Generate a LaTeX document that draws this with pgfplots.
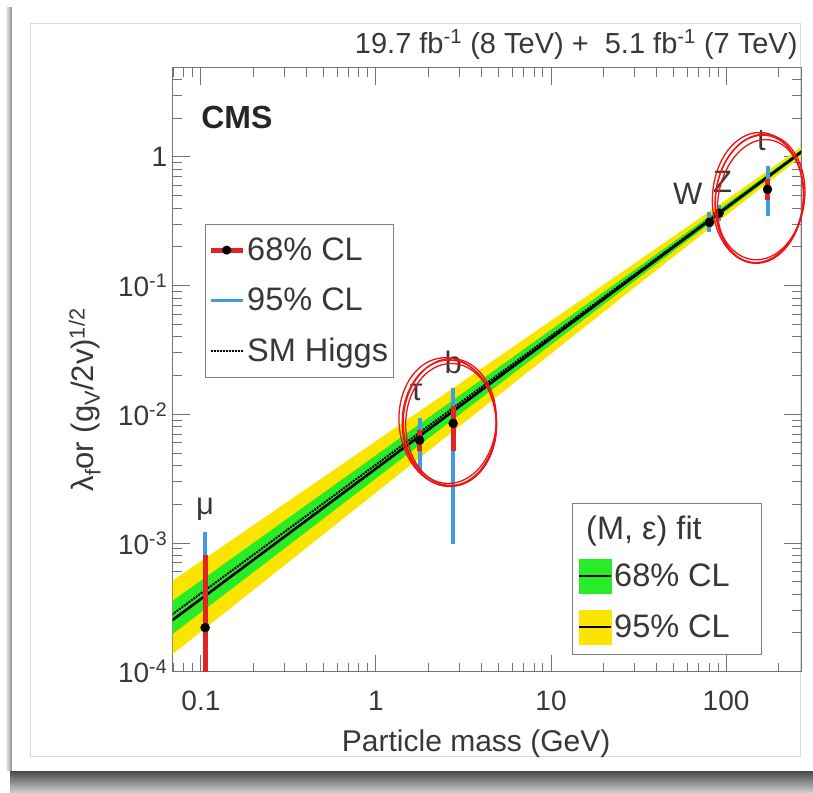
\documentclass[border=0pt]{standalone}
\usepackage{pgfplots}
\pgfplotsset{compat=1.18}
\usepackage{fontspec}
\setmainfont{Liberation Sans}

\definecolor{cmsred}{RGB}{225,35,35}
\definecolor{cmsblue}{RGB}{62,155,228}
\definecolor{bandgreen}{RGB}{40,236,40}
\definecolor{bandyellow}{RGB}{250,228,0}
\definecolor{penred}{RGB}{236,20,20}
\definecolor{txt}{gray}{0.22}

\newcommand\fsz[1]{\fontsize{#1}{#1}\selectfont}

\begin{document}
\begin{tikzpicture}[x=1pt,y=1pt]
% card, its shadows and the inner frame
\fill[white] (0,0) rectangle (813,-792);
\shade[left color=white, right color=black!45] (5,-8) rectangle (12,-770);
\shade[top color=black!72, bottom color=black!20] (10,-771) rectangle (813,-792);
\fill[white] (12,-6) rectangle (813,-770);
\draw[black!15, line width=1pt] (30,-24) rectangle (800,-756);

\begin{axis}[
  at={(172.7pt,-671.7pt)}, anchor=south west,
  scale only axis, width=628.3pt, height=604pt,
  xmode=log, ymode=log,
  xmin=0.069, xmax=268, ymin=1e-4, ymax=4.93,
  axis line style={black!55, line width=1pt},
  tick style={black!55, line width=1pt},
  tick align=inside,
  major tick length=17pt, minor tick length=9pt,
  xtick={0.1,1,10,100}, xticklabels={0.1,1,10,100},
  minor xtick={0.07,0.08,0.09,0.2,0.3,0.4,0.5,0.6,0.7,0.8,0.9,2,3,4,5,6,7,8,9,20,30,40,50,60,70,80,90,200},
  ytick={1e-4,1e-3,1e-2,1e-1,1},
  yticklabels={10\textsuperscript{-4},10\textsuperscript{-3},10\textsuperscript{-2},10\textsuperscript{-1},1},
  minor ytick={2e-4,3e-4,4e-4,5e-4,6e-4,7e-4,8e-4,9e-4,2e-3,3e-3,4e-3,5e-3,6e-3,7e-3,8e-3,9e-3,2e-2,3e-2,4e-2,5e-2,6e-2,7e-2,8e-2,9e-2,0.2,0.3,0.4,0.5,0.6,0.7,0.8,0.9,2,3,4},
  ticklabel style={font=\fsz{28}, text=txt},
  xticklabel style={yshift=-16pt},
  yticklabel style={xshift=-2pt},
  xlabel={Particle mass (GeV)},
  xlabel style={at={(rel axis cs:0.483,-0.12)}, anchor=center, font=\fsz{30}, text=txt},
  ylabel={λ\textsubscript{f}or (g\textsubscript{V}/2v)\textsuperscript{1/2}},
  ylabel style={at={(rel axis cs:-0.14,0.45)}, anchor=center, font=\fsz{31}, text=txt},
  legend cell align=left,
  legend style={at={(rel axis cs:0.051,0.742)}, anchor=north west,
    draw=black!50, line width=1pt, fill=white, font=\fsz{32.5}, text=txt,
    inner xsep=3pt, inner ysep=12pt, row sep=22pt},
]
% legend entries for the measured couplings
\addlegendimage{legend image code/.code={\draw[cmsred, line width=5pt] (0pt,0pt) -- (32pt,0pt); \fill[black] (16pt,0pt) circle (4pt);}}
\addlegendentry{68\% CL}
\addlegendimage{legend image code/.code={\draw[cmsblue, line width=3.5pt] (0pt,0pt) -- (32pt,0pt);}}
\addlegendentry{95\% CL}
\addlegendimage{legend image code/.code={\draw[black, densely dotted, line width=2pt] (0pt,0pt) -- (32pt,0pt);}}
\addlegendentry{SM Higgs}

% (M, epsilon) fit: 95% and 68% bands
\addplot[forget plot, fill=bandyellow, draw=none] coordinates {
  (0.06,4.483e-4) (0.3,2.0153e-3) (1,6.192e-3) (3,1.7266e-2) (10,5.331e-2) (30,0.14868) (100,0.46308) (300,1.3216)
  (300,1.1248) (100,0.35134) (30,9.686e-2) (10,2.9562e-2) (3,8.077e-3) (1,2.4651e-3) (0.3,6.704e-4) (0.06,1.1792e-4)
} -- cycle;
\addplot[forget plot, fill=bandgreen, draw=none] coordinates {
  (0.06,3.108e-4) (0.3,1.4899e-3) (1,4.805e-3) (3,1.4007e-2) (10,4.5373e-2) (30,0.13224) (100,0.42920) (300,1.2649)
  (300,1.1751) (100,0.37906) (30,0.10894) (10,3.4734e-2) (3,9.959e-3) (1,3.1754e-3) (0.3,9.063e-4) (0.06,1.7003e-4)
} -- cycle;
% best fit and SM expectation
\addplot[forget plot, black, line width=2.6pt] coordinates {(0.06,2.192e-4) (300,1.2192)};
\addplot[forget plot, black, densely dotted, line width=2pt] coordinates {(0.06,2.4368e-4) (300,1.2184)};

% 95% CL intervals
\addplot[forget plot, cmsblue, line width=4pt] coordinates {(0.1057,5e-5) (0.1057,1.22e-3)};
\addplot[forget plot, cmsblue, line width=4pt] coordinates {(1.777,3.5e-3) (1.777,9.3e-3)};
\addplot[forget plot, cmsblue, line width=4pt] coordinates {(2.76,9.8e-4) (2.76,1.6e-2)};
\addplot[forget plot, cmsblue, line width=4pt] coordinates {(80.4,0.26) (80.4,0.37)};
\addplot[forget plot, cmsblue, line width=4pt] coordinates {(91.2,0.32) (91.2,0.42)};
\addplot[forget plot, cmsblue, line width=4pt] coordinates {(172.5,0.35) (172.5,0.85)};
% 68% CL intervals
\addplot[forget plot, cmsred, line width=5pt] coordinates {(0.1057,5e-5) (0.1057,8.1e-4)};
\addplot[forget plot, cmsred, line width=5pt] coordinates {(1.777,5.2e-3) (1.777,7.5e-3)};
\addplot[forget plot, cmsred, line width=5pt] coordinates {(2.76,5.2e-3) (2.76,1.17e-2)};
\addplot[forget plot, cmsred, line width=5pt] coordinates {(80.4,0.285) (80.4,0.335)};
\addplot[forget plot, cmsred, line width=5pt] coordinates {(91.2,0.34) (91.2,0.39)};
\addplot[forget plot, cmsred, line width=5pt] coordinates {(172.5,0.46) (172.5,0.67)};
% best-fit values
\addplot[forget plot, only marks, mark=*, mark size=4.5pt, black] coordinates {
  (0.1057,2.2e-4) (1.777,6.3e-3) (2.76,8.5e-3) (80.4,0.31) (91.2,0.365) (172.5,0.56)};

% particle names
\node[font=\fsz{31}, text=txt] at (axis cs:0.1057,1.84e-3) {μ};
\node[font=\fsz{31}, text=txt] at (axis cs:1.70,1.49e-2) {τ};
\node[font=\fsz{31}, text=txt] at (axis cs:2.76,2.55e-2) {b};
\node[font=\fsz{31}, text=txt] at (axis cs:60.4,0.515) {W};
\node[font=\fsz{31}, text=txt] at (axis cs:95.6,0.638) {Z};
\node[font=\fsz{31}, text=txt] at (axis cs:159,1.35) {t};

\node[anchor=west, font=\fsz{32}\bfseries, text=black!85] at (rel axis cs:0.04,0.918) {CMS};

\coordinate (e1) at (axis cs:2.62,8.56e-3);
\coordinate (e2) at (axis cs:155,0.471);
\end{axis}

% second legend: the fit bands
\begin{axis}[
  at={(172.7pt,-671.7pt)}, anchor=south west,
  scale only axis, width=628.3pt, height=604pt,
  hide axis, xmin=0, xmax=1, ymin=0, ymax=1,
  legend cell align=left,
  legend style={at={(rel axis cs:0.635,0.279)}, anchor=north west,
    draw=black!50, line width=1pt, fill=white, font=\fsz{32.5}, text=txt,
    inner xsep=6pt, inner ysep=10pt, row sep=16pt},
]
\addlegendimage{empty legend}
\addlegendentry{\hspace*{-28pt}(M, ε) fit}
\addlegendimage{legend image code/.code={\fill[bandgreen] (0pt,-17pt) rectangle (32pt,17pt); \draw[black, line width=2pt] (0pt,0pt) -- (32pt,0pt);}}
\addlegendentry{68\% CL\hspace*{24pt}}
\addlegendimage{legend image code/.code={\fill[bandyellow] (0pt,-17pt) rectangle (32pt,17pt); \draw[black, line width=2pt] (0pt,0pt) -- (32pt,0pt);}}
\addlegendentry{95\% CL\hspace*{24pt}}
\end{axis}

% luminosity label
\node[anchor=base east, font=\fsz{29}, text=txt] at (801,-53)
  {19.7 fb\textsuperscript{-1} (8 TeV) +\ \ 5.1 fb\textsuperscript{-1} (7 TeV)};

% hand-drawn circles around the b/tau and top points
\begin{scope}[penred, line width=1.3pt]
  \draw (e1) ellipse [x radius=47pt, y radius=63pt];
  \draw ([shift={(2pt,-1.5pt)}]e1) ellipse [x radius=45.5pt, y radius=61pt];
  \draw[rotate around={5:(e1)}] ([shift={(-1.5pt,1pt)}]e1) ellipse [x radius=48.5pt, y radius=64.5pt];
  \draw[rotate around={-3:(e1)}] ([shift={(0.5pt,2pt)}]e1) ellipse [x radius=46.5pt, y radius=62.5pt];
  \draw[rotate around={-6:(e2)}] (e2) ellipse [x radius=44pt, y radius=64pt];
  \draw[rotate around={-9:(e2)}] ([shift={(1.5pt,-2pt)}]e2) ellipse [x radius=42.5pt, y radius=62pt];
  \draw[rotate around={-3:(e2)}] ([shift={(-1.5pt,1pt)}]e2) ellipse [x radius=45.5pt, y radius=65.5pt];
  \draw[rotate around={-7:(e2)}] ([shift={(0.5pt,2pt)}]e2) ellipse [x radius=44.5pt, y radius=63pt];
\end{scope}
\end{tikzpicture}
\end{document}
